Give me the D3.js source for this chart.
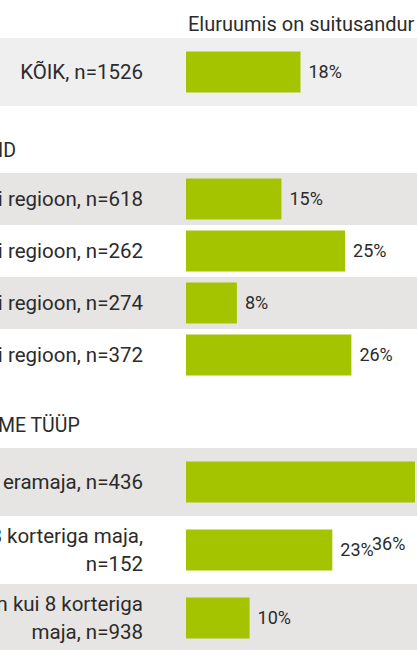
<!DOCTYPE html>
<html>
<head>
<meta charset="utf-8">
<script src="https://cdn.jsdelivr.net/npm/d3@7"></script>
<style>
  body { margin: 0; background: #fff; }
  text { font-family: Roboto, sans-serif; fill: #2b2b2b; }
</style>
</head>
<body>
<script>
const title = 'Eluruumis on suitusandur';

// groups of rows (heading '' = no heading)
const groupTitles = ['', 'PIIRKOND', 'ELUASEME TÜÜP'];
const groupOf = [0, 1, 1, 1, 1, 2, 2, 2];
const labels = [
  'KÕIK, n=1526',
  'Põhja-Eesti regioon, n=618',
  'Lõuna-Eesti regioon, n=262',
  'Kesk-Eesti regioon, n=274',
  'Lääne-Eesti regioon, n=372',
  'Rida- või eramaja, n=436',
  'Kuni 8 korteriga maja,\nn=152',
  'Rohkem kui 8 korteriga\nmaja, n=938'
];
const values = [18, 15, 25, 8, 26, 36, 23, 10];

const width = 417,
  height = 650;

const svg = d3.select('body').append('svg')
  .attr('width', width)
  .attr('height', height);

const x = d3.scaleLinear()
  .domain([0, 36])
  .range([186, 415]);

const labelX = 143;
const headingX = -71;

const rows = labels.map((d, i) => ({ label: d, value: values[i], group: groupOf[i], i }));

// vertical layout: each group is its own band scale
let yTop = 38;
const layout = [];
groupTitles.forEach((g, gi) => {
  const gr = rows.filter(r => r.group === gi);
  const multi = gr.some(r => r.label.includes('\n'));
  const bandH = (gr.length === 1 || multi) ? 68 : 52;
  const y = d3.scaleBand()
    .domain(gr.map(r => r.i))
    .range([yTop, yTop + bandH * gr.length]);
  layout.push({ title: g, rows: gr, y, top: yTop, first: gi === 0 });
  yTop += bandH * gr.length + 67;
});

layout.forEach(L => {
  const g = svg.append('g');

  if (L.title) {
    g.append('text')
      .attr('x', headingX)
      .attr('y', L.top - 16)
      .style('font-size', '19.5px')
      .text(L.title);
  }

  g.selectAll('rect.bg')
    .data(L.rows.filter((r, k) => k % 2 === 0))
    .enter().append('rect')
    .attr('class', 'bg')
    .attr('x', 0)
    .attr('width', width)
    .attr('y', d => L.y(d.i))
    .attr('height', L.y.bandwidth())
    .attr('fill', L.first ? '#efefef' : '#e6e5e3');

  const bh = 41;
  const row = g.selectAll('g.row')
    .data(L.rows)
    .enter().append('g')
    .attr('class', 'row')
    .attr('transform', d => `translate(0,${L.y(d.i) + L.y.bandwidth() / 2})`);

  row.append('rect')
    .attr('x', x(0))
    .attr('y', -bh / 2)
    .attr('width', d => x(d.value) - x(0))
    .attr('height', bh)
    .attr('fill', '#a5c400');

  row.each(function(d) {
    const lines = d.label.split('\n');
    const t = d3.select(this).append('text')
      .attr('text-anchor', 'end')
      .style('font-size', '20.5px');
    lines.forEach((l, k) => {
      t.append('tspan')
        .attr('x', labelX)
        .attr('y', (k - (lines.length - 1) / 2) * 28 + 7)
        .text(l);
    });
  });

  // value labels; one that runs past the edge drops below its bar
  row.append('text')
    .attr('x', d => {
      const px = x(d.value) + 8;
      return px + 35 > width ? width - 45 : px;
    })
    .attr('y', d => x(d.value) + 43 > width ? L.y.bandwidth() : 6)
    .style('font-size', '18px')
    .text(d => d.value + '%');
});

svg.append('text')
  .attr('x', 188)
  .attr('y', 31)
  .style('font-size', '20px')
  .text(title);
</script>
</body>
</html>
